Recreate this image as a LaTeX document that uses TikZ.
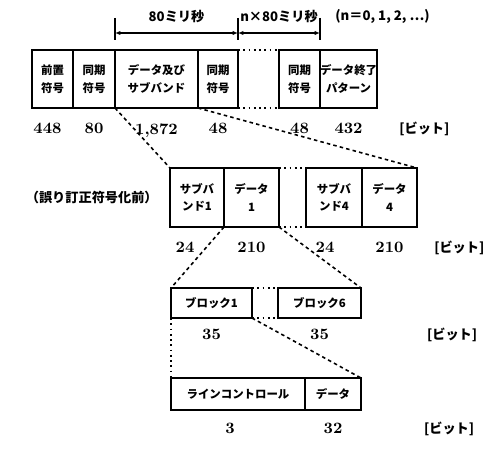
\documentclass[tikz,border=0pt]{standalone}
\usepackage{fontspec}
\newfontfamily\jp{Noto Sans CJK JP}
\usetikzlibrary{positioning,arrows.meta}

\begin{document}
\begin{tikzpicture}[
  box/.style={draw, line width=1pt, inner sep=0pt, outer sep=0pt, align=center, minimum height=1.16cm, font=\jp\bfseries\fontsize{6.5}{10}\selectfont},
  num/.style={inner sep=0pt, font=\bfseries\fontsize{9}{10}\selectfont},
  unit/.style={inner sep=0pt, font=\jp\bfseries\fontsize{7.5}{9}\selectfont},
  gap/.style={dotted, line width=1pt},
  link/.style={dash pattern=on 2pt off 1.8pt, line width=0.9pt},
  span/.style={{Latex[length=3pt,width=2.4pt]}-{Latex[length=3pt,width=2.4pt]}, line width=0.6pt}
]
\useasboundingbox (0,0) rectangle (10,-8.98);

% whole frame
\node[box, anchor=north west, minimum width=0.82cm] (p1) at (0.64,-1.0) {前置\\符号};
\node[box, right=0pt of p1, minimum width=0.84cm] (p2) {同期\\符号};
\node[box, right=0pt of p2, minimum width=1.66cm] (p3) {データ及び\\サブバンド};
\node[box, right=0pt of p3, minimum width=0.80cm] (p4) {同期\\符号};
\node[box, right=0.82cm of p4, minimum width=0.82cm] (p5) {同期\\符号};
\node[box, right=0pt of p5, minimum width=1.14cm] (p6) {データ終了\\パターン};
\draw[gap] (p4.north east) -- (p5.north west);
\draw[gap] (p4.south east) -- (p5.south west);

\node[num, below=0.3cm of p1, xshift=-0.1cm] (n1) {448};
\node[num, below=0.3cm of p2] (n2) {80};
\node[num, below=0.3cm of p3] (n3) {1,872};
\node[num, below=0.3cm of p4] (n4) {48};
\node[num, below=0.3cm of p5] (n5) {48};
\node[num, below=0.3cm of p6] (n6) {432};
\node[unit, right=0.72cm of n6] (u1) {[ビット]};

% time spans
\coordinate[above=0.34cm of p3.north west] (t1);
\coordinate[above=0.34cm of p4.north east] (t2);
\coordinate[above=0.34cm of p5.north east] (t3);
\foreach \t in {t1,t2,t3}
  \draw[line width=0.8pt] ([yshift=0.3cm]\t) -- ([yshift=-0.14cm]\t);
\draw[span] (t1) -- (t2);
\draw[span] (t2) -- (t3);
\path (t1) -- (t2) node[midway, above=0.2cm, unit] (d1) {80ミリ秒};
\path (t2) -- (t3) node[midway, above=0.2cm, unit] (d2) {n×80ミリ秒};
\node[unit, right=0.34cm of d2] (d3) {(n＝0, 1, 2, ⋯)};

% subband / data
\node[box, anchor=north west, minimum width=1.08cm, minimum height=1.18cm] (q1) at (3.4,-3.36) {サブバ\\ンド1};
\node[box, right=0pt of q1, minimum width=1.10cm, minimum height=1.18cm] (q2) {データ\\1};
\node[box, right=0.54cm of q2, minimum width=1.12cm, minimum height=1.18cm] (q3) {サブバ\\ンド4};
\node[box, right=0pt of q3, minimum width=1.10cm, minimum height=1.18cm] (q4) {データ\\4};
\draw[gap] (q2.north east) -- (q3.north west);
\draw[gap] (q2.south east) -- (q3.south west);
\node[unit, left=0.24cm of q1] (c1) {（誤り訂正符号化前）};

\node[num, below=0.3cm of q1, xshift=-0.24cm] (m1) {24};
\node[num, below=0.3cm of q2] (m2) {210};
\node[num, below=0.3cm of q3, xshift=-0.18cm] (m3) {24};
\node[num, below=0.3cm of q4] (m4) {210};
\node[unit, right=0.6cm of m4] (u2) {[ビット]};

\draw[link] (p2.south east) -- (q1.north west);
\draw[link] (p4.south west) -- (q4.north east);

% blocks
\node[box, anchor=north west, minimum width=1.62cm, minimum height=0.6cm] (r1) at (3.42,-5.76) {ブロック1};
\node[box, right=0.52cm of r1, minimum width=1.66cm, minimum height=0.6cm] (r2) {ブロック6};
\draw[gap] (r1.north east) -- (r2.north west);
\draw[gap] (r1.south east) -- (r2.south west);

\node[num, below=0.22cm of r1] (k1) {35};
\node[num, below=0.22cm of r2] (k2) {35};
\node[unit, right=1.95cm of k2] (u3) {[ビット]};

\draw[link] (q1.south east) -- (r1.north west);
\draw[link] (q2.south east) -- (r2.north east);

% line control / data
\node[box, anchor=north west, minimum width=2.68cm, minimum height=0.64cm] (s1) at (3.42,-7.56) {ラインコントロール};
\node[box, right=0pt of s1, minimum width=1.12cm, minimum height=0.64cm] (s2) {データ};

\node[num, below=0.26cm of s1, xshift=-0.16cm] (j1) {3};
\node[num, below=0.26cm of s2] (j2) {32};
\node[unit, right=1.62cm of j2] (u4) {[ビット]};

\draw[gap] (r1.south west) -- (s1.north west);
\draw[link] (r1.south east) -- (s2.north east);
\end{tikzpicture}
\end{document}
